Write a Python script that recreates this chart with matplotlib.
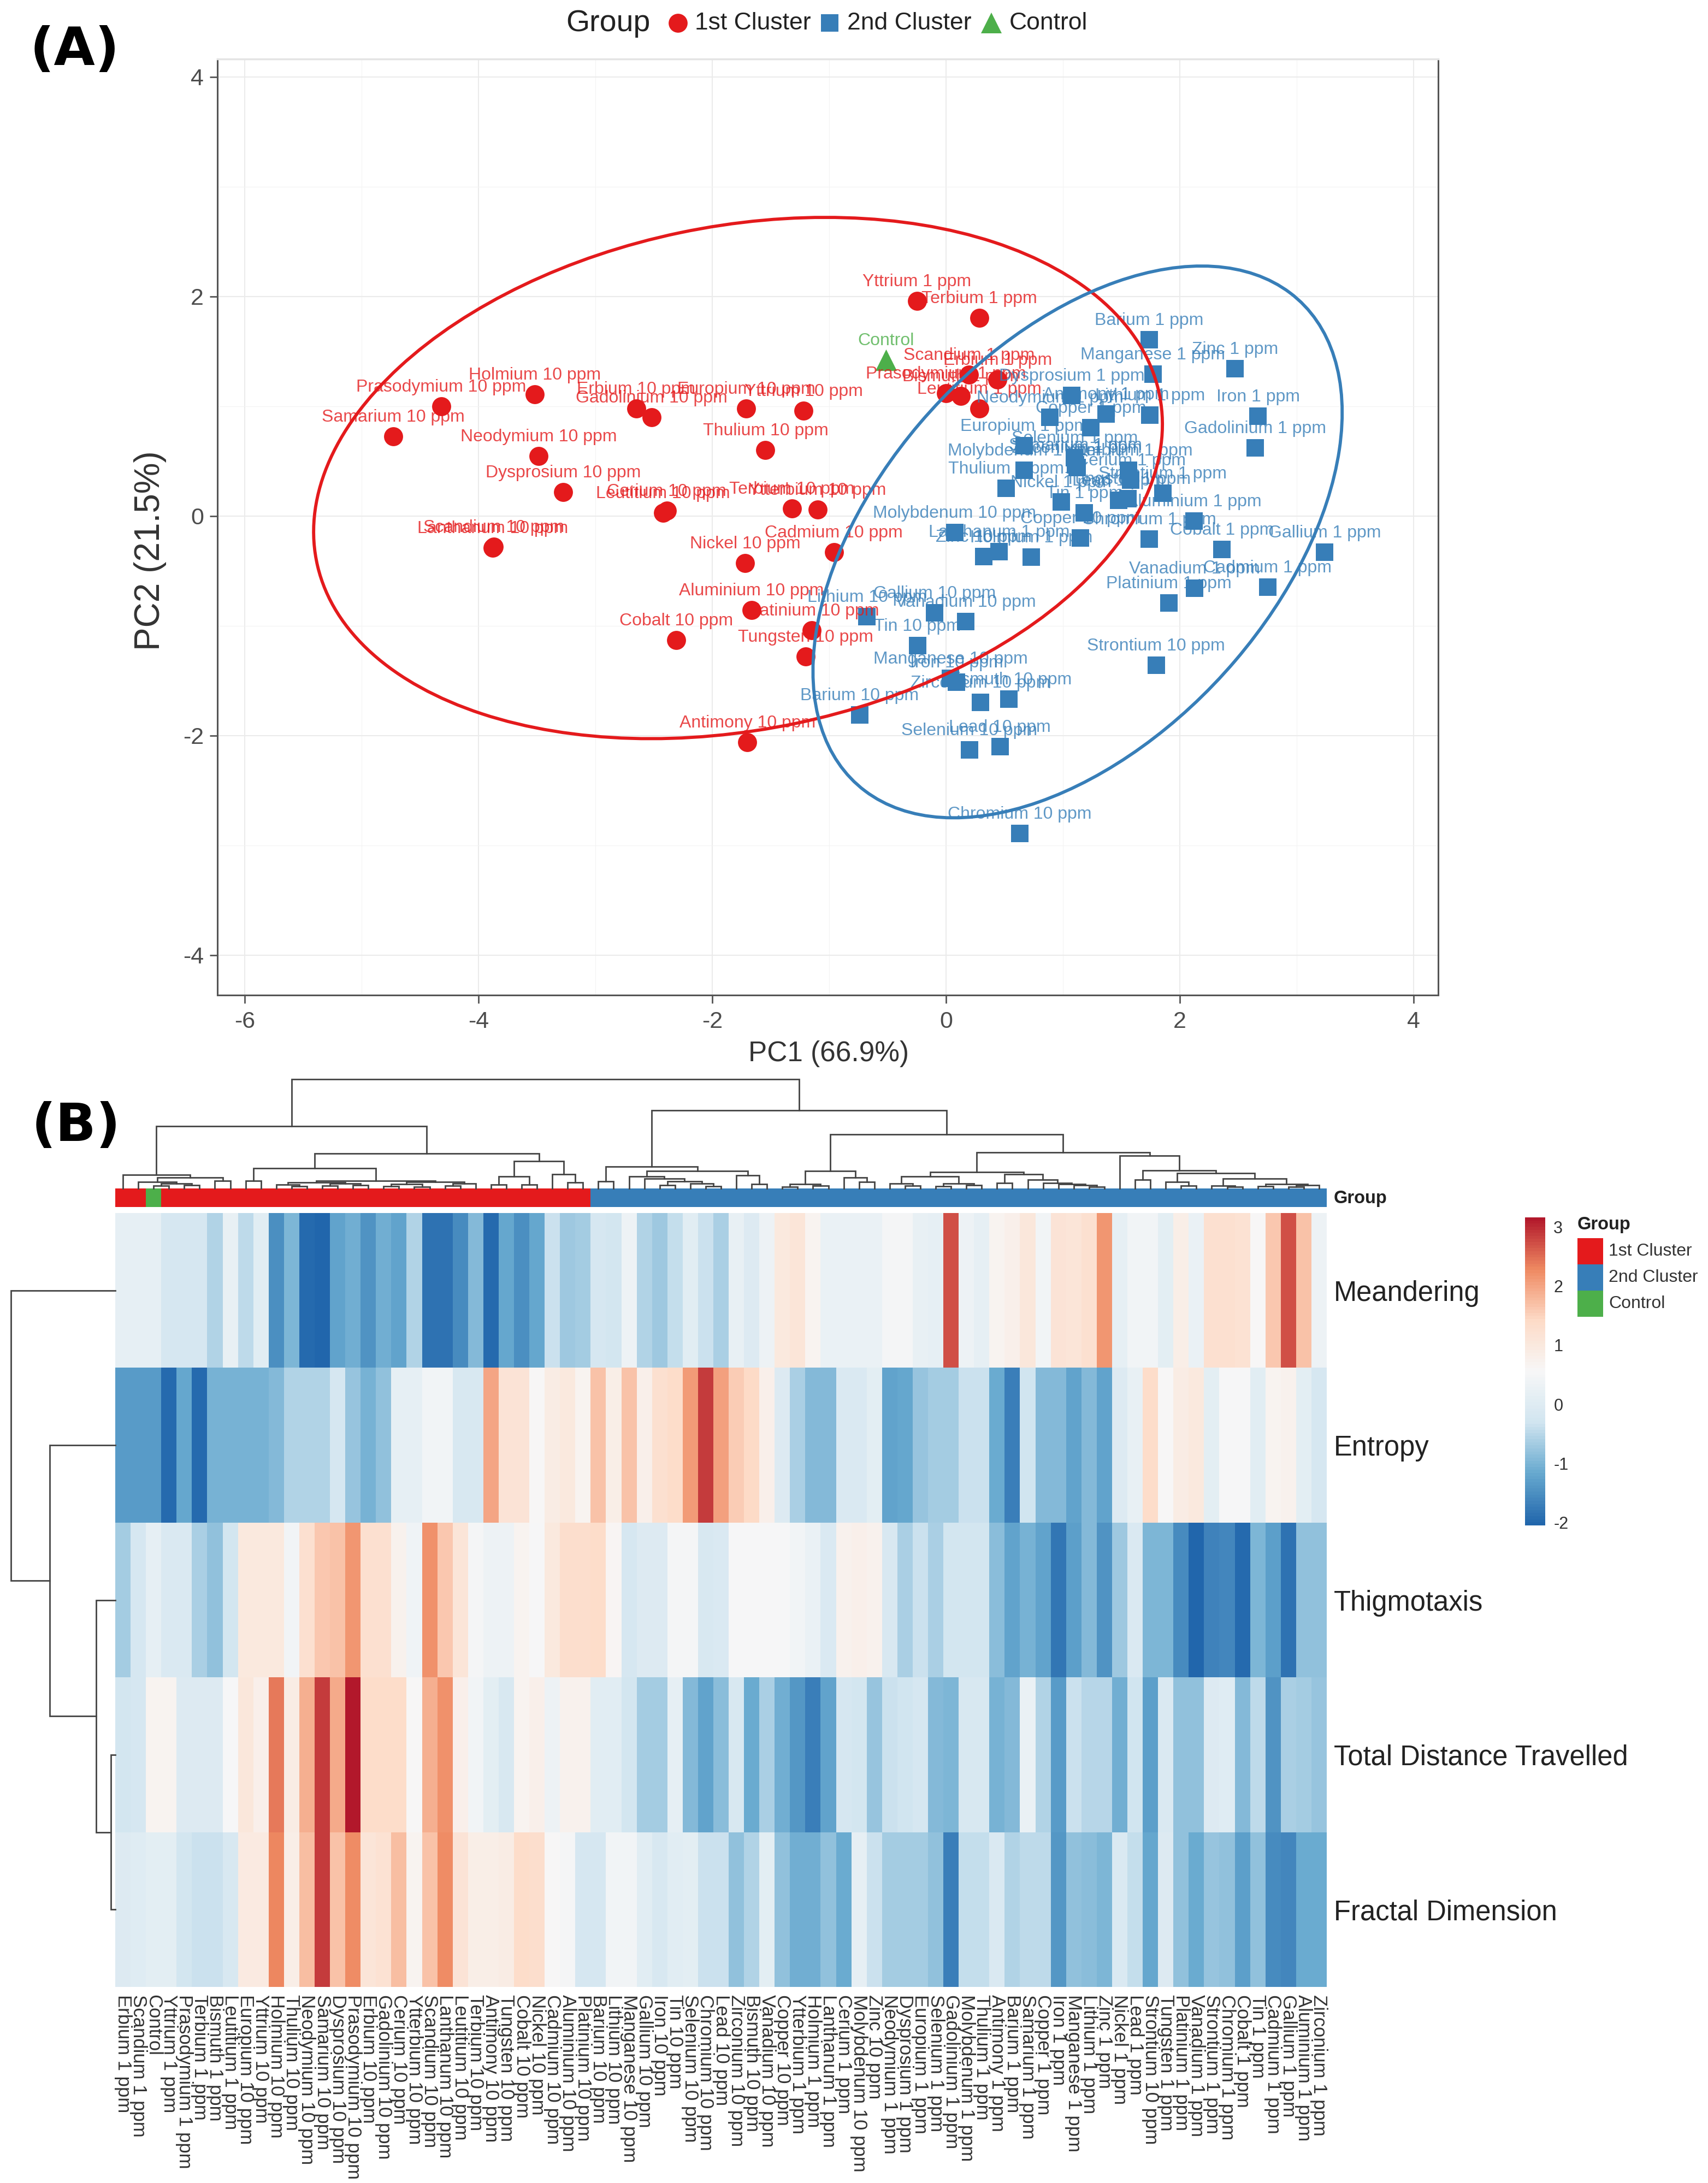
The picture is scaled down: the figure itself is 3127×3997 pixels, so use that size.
import matplotlib
matplotlib.use('Agg')
import matplotlib.pyplot as plt
from matplotlib.cm import ScalarMappable
from matplotlib.colors import LinearSegmentedColormap, ListedColormap, Normalize
from matplotlib.lines import Line2D
from matplotlib.patches import Ellipse, Rectangle
import numpy as np

plt.rcParams['font.family'] = ['Liberation Sans', 'DejaVu Sans']

W, H = 3127, 3997

# PCA scores
names_c1 = ['Erbium 1 ppm', 'Scandium 1 ppm', 'Yttrium 1 ppm', 'Prasodymium 1 ppm', 'Terbium 1 ppm',
            'Bismuth 1 ppm', 'Leutitium 1 ppm', 'Europium 10 ppm', 'Yttrium 10 ppm', 'Holmium 10 ppm',
            'Thulium 10 ppm', 'Neodymium 10 ppm', 'Samarium 10 ppm', 'Dysprosium 10 ppm', 'Prasodymium 10 ppm',
            'Erbium 10 ppm', 'Gadolinium 10 ppm', 'Cerium 10 ppm', 'Ytterbium 10 ppm', 'Scandium 10 ppm',
            'Lanthanum 10 ppm', 'Leutitium 10 ppm', 'Terbium 10 ppm', 'Antimony 10 ppm', 'Tungsten 10 ppm',
            'Cobalt 10 ppm', 'Nickel 10 ppm', 'Cadmium 10 ppm', 'Aluminium 10 ppm', 'Platinium 10 ppm']
pc1_c1 = [0.44, 0.197, -0.25, 0.0, 0.283, 0.126, 0.283, -1.71, -1.22, -3.52,
          -1.545, -3.485, -4.73, -3.275, -4.32, -2.65, -2.52, -2.39, -1.10, -3.87,
          -3.88, -2.42, -1.32, -1.70, -1.20, -2.31, -1.72, -0.96, -1.665, -1.15]
pc2_c1 = [1.24, 1.286, 1.956, 1.117, 1.806, 1.09, 0.976, 0.98, 0.96, 1.107,
          0.60, 0.545, 0.726, 0.217, 1.0, 0.98, 0.90, 0.05, 0.06, -0.28,
          -0.29, 0.03, 0.07, -2.06, -1.28, -1.13, -0.43, -0.33, -0.86, -1.04]

names_c2 = ['Barium 10 ppm', 'Lithium 10 ppm', 'Manganese 10 ppm', 'Gallium 10 ppm', 'Iron 10 ppm', 'Tin 10 ppm',
            'Selenium 10 ppm', 'Chromium 10 ppm', 'Lead 10 ppm', 'Zirconium 10 ppm', 'Bismuth 10 ppm',
            'Vanadium 10 ppm', 'Copper 10 ppm', 'Ytterbium 1 ppm', 'Holmium 1 ppm', 'Lanthanum 1 ppm', 'Cerium 1 ppm',
            'Molybdenum 10 ppm', 'Zinc 10 ppm', 'Neodymium 1 ppm', 'Dysprosium 1 ppm', 'Europium 1 ppm',
            'Selenium 1 ppm', 'Gadolinium 1 ppm', 'Molybdenum 1 ppm', 'Thulium 1 ppm', 'Antimony 1 ppm',
            'Barium 1 ppm', 'Samarium 1 ppm', 'Copper 1 ppm', 'Iron 1 ppm', 'Manganese 1 ppm', 'Lithium 1 ppm',
            'Zinc 1 ppm', 'Nickel 1 ppm', 'Lead 1 ppm', 'Strontium 10 ppm', 'Tungsten 1 ppm', 'Platinium 1 ppm',
            'Vanadium 1 ppm', 'Strontium 1 ppm', 'Chromium 1 ppm', 'Cobalt 1 ppm', 'Tin 1 ppm', 'Cadmium 1 ppm',
            'Gallium 1 ppm', 'Aluminium 1 ppm', 'Zirconium 1 ppm']
pc1_c2 = [-0.74, -0.676, 0.037, -0.10, 0.088, -0.244, 0.20, 0.63, 0.46, 0.295, 0.537,
          0.168, 1.15, 1.56, 0.728, 0.453, 1.58, 0.074, 0.32, 0.887, 1.076, 0.67,
          1.10, 2.646, 0.67, 0.516, 1.37, 1.737, 1.105, 1.24, 2.67, 1.77, 1.745,
          2.47, 0.985, 1.475, 1.797, 1.557, 1.907, 2.127, 1.853, 1.737, 2.36, 1.184,
          2.75, 3.237, 2.12, 1.12]
pc2_c2 = [-1.815, -0.915, -1.48, -0.885, -1.515, -1.18, -2.13, -2.89, -2.10, -1.70, -1.667,
          -0.96, -0.20, 0.416, -0.375, -0.324, 0.328, -0.149, -0.37, 0.90, 1.095, 0.64,
          0.53, 0.62, 0.416, 0.25, 0.93, 1.605, 0.468, 0.805, 0.91, 1.29, 0.92,
          1.34, 0.128, 0.14, -1.36, 0.157, -0.793, -0.66, 0.207, -0.21, -0.305, 0.028,
          -0.649, -0.33, -0.045, 0.44]

control_name = 'Control'
control_pc1 = -0.513
control_pc2 = 1.42

# Ellipses: centre x, centre y, width, height, angle
ellipse_c1 = (-1.78, 0.345, 7.37, 4.578, 12.6)
ellipse_c2 = (1.125, -0.237, 5.814, 3.458, 51.3)

# Heatmap
col_labels = ['Erbium 1 ppm', 'Scandium 1 ppm', 'Control', 'Yttrium 1 ppm', 'Prasodymium 1 ppm', 'Terbium 1 ppm',
              'Bismuth 1 ppm', 'Leutitium 1 ppm', 'Europium 10 ppm', 'Yttrium 10 ppm', 'Holmium 10 ppm',
              'Thulium 10 ppm', 'Neodymium 10 ppm', 'Samarium 10 ppm', 'Dysprosium 10 ppm', 'Prasodymium 10 ppm',
              'Erbium 10 ppm', 'Gadolinium 10 ppm', 'Cerium 10 ppm', 'Ytterbium 10 ppm', 'Scandium 10 ppm',
              'Lanthanum 10 ppm', 'Leutitium 10 ppm', 'Terbium 10 ppm', 'Antimony 10 ppm', 'Tungsten 10 ppm',
              'Cobalt 10 ppm', 'Nickel 10 ppm', 'Cadmium 10 ppm', 'Aluminium 10 ppm', 'Platinium 10 ppm',
              'Barium 10 ppm', 'Lithium 10 ppm', 'Manganese 10 ppm', 'Gallium 10 ppm', 'Iron 10 ppm', 'Tin 10 ppm',
              'Selenium 10 ppm', 'Chromium 10 ppm', 'Lead 10 ppm', 'Zirconium 10 ppm', 'Bismuth 10 ppm',
              'Vanadium 10 ppm', 'Copper 10 ppm', 'Ytterbium 1 ppm', 'Holmium 1 ppm', 'Lanthanum 1 ppm',
              'Cerium 1 ppm', 'Molybdenum 10 ppm', 'Zinc 10 ppm', 'Neodymium 1 ppm', 'Dysprosium 1 ppm',
              'Europium 1 ppm', 'Selenium 1 ppm', 'Gadolinium 1 ppm', 'Molybdenum 1 ppm', 'Thulium 1 ppm',
              'Antimony 1 ppm', 'Barium 1 ppm', 'Samarium 1 ppm', 'Copper 1 ppm', 'Iron 1 ppm', 'Manganese 1 ppm',
              'Lithium 1 ppm', 'Zinc 1 ppm', 'Nickel 1 ppm', 'Lead 1 ppm', 'Strontium 10 ppm', 'Tungsten 1 ppm',
              'Platinium 1 ppm', 'Vanadium 1 ppm', 'Strontium 1 ppm', 'Chromium 1 ppm', 'Cobalt 1 ppm', 'Tin 1 ppm',
              'Cadmium 1 ppm', 'Gallium 1 ppm', 'Aluminium 1 ppm', 'Zirconium 1 ppm']
row_labels = ['Meandering', 'Entropy', 'Thigmotaxis', 'Total Distance Travelled', 'Fractal Dimension']

meandering = [.15, .15, .15, -.2, -.2, -.2, -.55, .2, -.45, .05, -1.5, -1.0, -1.95, -2.0, -1.25, -1.1,
              -1.45, -1.1, -1.25, -.55, -1.85, -1.85, -1.55, -.95, -1.95, -1.2, -1.5, -1.2, -.35, -.7, -.65,
              -.2, -.25, .3, -.55, -.7, -.4, .05, -.35, -.6, .2, -.05, .3, 1.0, 1.1, .7, .25, .25, .25, .25,
              .5, .5, .2, .15, 2.7, .3, .15, .7, .8, 1.05, .4, 1.15, 1.1, 1.25, 2.15, .15, .4, .45, .1, .85,
              .25, 1.25, 1.25, 1.2, .6, 1.6, 2.7, 1.65, .3]
entropy = [-1.35, -1.35, -1.35, -1.95, -1.2, -1.95, -1.05, -1.05, -1.05, -1.05, -.95, -.55, -.55, -.55, -.2,
           -.75, -1.05, -.85, .15, .15, .4, .4, -.15, -.15, 2.0, 1.15, 1.15, .6, .9, 1.0, .7, 1.7, .85, 1.7,
           .8, 1.25, 1.35, 2.1, 2.85, 2.05, 1.55, 1.4, .8, -.05, -.6, -.95, -.95, -.1, -.1, .1, -1.25, -1.2,
           -.75, -.65, -.65, -.35, -.35, -1.15, -1.7, -.3, -.95, -.95, -1.25, -.95, -1.25, -.05, .2, 1.35,
           .6, .9, 1.0, .1, .55, .55, .05, .7, .75, .1, -.2]
thigmotaxis = [-.65, -.2, .15, -.1, -.1, -.6, -.85, -.25, 1.0, 1.0, 1.0, .45, 1.25, 1.6, 1.7, 2.15, 1.25,
               1.25, .75, .35, 2.2, 1.6, 1.1, .5, .3, .3, .7, .55, 1.0, 1.3, 1.3, 1.35, .65, -.2, -.05, -.05,
               .5, .5, -.15, -.1, .55, .55, .55, .55, .4, .25, -.1, .75, .8, .75, -.15, -.6, -.35, -.6, -.25,
               -.25, -.25, -.9, -1.25, -1.05, -1.25, -1.8, -1.3, -.95, -1.45, -.7, -.1, -1.0, -1.0, -1.55,
               -2.0, -1.65, -1.6, -1.95, -1.0, -1.3, -1.85, -.85, -.85]
total_distance = [-.25, -.2, .7, .7, -.05, -.05, -.05, .55, 1.05, .8, 2.4, .9, 1.9, 2.85, 1.95, 3.15, 1.35,
                  1.35, 1.35, .6, 1.9, 2.2, .8, .45, .1, -.15, .7, .8, .3, .75, .75, .05, .05, -.25, -.65,
                  -.65, .15, -.95, -1.25, -.9, -.15, -1.15, -.6, -1.1, -1.4, -1.7, -1.25, -.2, -.25, -.75,
                  -.35, -.3, -.2, -.95, -1.0, -.15, -.15, -1.05, -.95, .25, -.55, -1.35, -.35, -.5, -.5,
                  -1.1, -.3, -1.3, -.1, -.8, -.85, -.05, .0, -.95, -.45, -1.45, -.6, -.65, -.75]
fractal_dimension = [-.05, .0, .1, .1, -.25, -.35, -.35, -.15, .95, .95, 2.3, .85, 1.75, 2.85, 1.65, 2.25,
                     1.1, 1.2, 1.75, .7, 1.7, 2.25, 1.15, .85, .85, .9, 1.35, 1.3, .6, .5, -.2, -.2, .45,
                     .45, .05, -.15, .05, .1, -.35, -.35, -.85, -.55, .1, -.85, -1.1, -1.1, -.85, -1.15, .15,
                     -.35, -.65, -.65, -.65, -.85, -1.7, -.4, -.4, -.1, -.55, -.45, -.45, -1.4, -.85, -.9,
                     -1.0, -.1, -.4, -1.2, -.05, -.85, -1.15, -.75, -.8, -1.3, -.85, -1.55, -1.6, -1.15, -1.15]

group_names = ['1st Cluster', '2nd Cluster', 'Control']
group_colors = ['#E41A1C', '#377EB8', '#4DAF4A']
col_group = [0, 0, 2] + [0] * 28 + [1] * 48

# Trees as (height, left, right), ints are leaves
col_tree = (200,
            (114,
             (25, 0, (20, (12, 1, (9, (5, 2, 3), (6, 4, 5))), (14, 6, 7))),
             (64,
              (37, (14, 8, 9),
               (14,
                (11, (7, 10, (4, 11, 12)), (9, (5, 13, 14), (6, 15, 16))),
                (12, (8, (4, 17, 18), (3, 19, 20)), (9, (5, 21, 22), 23)))),
              (50, (22, (7, 24, 25), (7, 26, 27)), (26, 28, (11, 29, 30))))),
            (143,
             (40, (13, 31, 32),
              (32,
               (22, 33, (18, 34, (13, (6, 35, 36), (9, 37, (4, 38, 39))))),
               (24, 40, (8, 41, 42)))),
             (99,
              (32,
               (8, (3, 43, 44), (5, 45, 46)),
               (20, 47, (12, 48, 49))),
              (66,
               (30,
                (22, (9, 50, (5, 51, 52)), (9, (4, 53, 54), (6, 55, 56))),
                (26, (10, 57, 58), (16, 59, (10, 60, (8, 61, (6, 62, (3, 63, 64))))))),
               (60, 65,
                (33, (16, 66, 67),
                 (28, (12, 68, (5, 69, 70)),
                  (18, (5, 71, (3, 72, 73)),
                   (8, (4, 74, 75), (6, (3, 76, 77), 78))))))))))
row_tree = (191, 0, (120, 1, (35, 2, (8, 3, 4))))


def px_axes(x0, y0, x1, y1):
    return fig.add_axes([x0 / W, 1 - y1 / H, (x1 - x0) / W, (y1 - y0) / H])


def tree_segments(node, segs):
    # returns position and height of a node, collects the three lines of each merge
    if isinstance(node, int):
        return node + 0.5, 0
    h, a, b = node
    xa, ha = tree_segments(a, segs)
    xb, hb = tree_segments(b, segs)
    segs.append(([xa, xa, xb, xb], [ha, h, h, hb]))
    return (xa + xb) / 2, h


fig = plt.figure(figsize=(W / 100, H / 100), dpi=100, facecolor='white')

# (A) PCA
ax = px_axes(398, 108, 2633, 1822)
ax.set_xlim(-6.234, 4.21)
ax.set_ylim(-4.365, 4.162)
ax.set_xticks([-6, -4, -2, 0, 2, 4])
ax.set_yticks([-4, -2, 0, 2, 4])
ax.set_xticks([-5, -3, -1, 1, 3], minor=True)
ax.set_yticks([-3, -1, 1, 3], minor=True)
ax.grid(True, which='major', color='#EBEBEB', lw=1.5)
ax.grid(True, which='minor', color='#F3F3F3', lw=0.8)
ax.set_axisbelow(True)
ax.tick_params(which='minor', length=0)
ax.tick_params(axis='x', which='major', length=11, width=2, color='#555555', labelcolor='#4D4D4D',
               labelsize=31, pad=10)
ax.tick_params(axis='y', which='major', length=10, width=2, color='#555555', labelcolor='#4D4D4D',
               labelsize=31, pad=8)
ax.xaxis.set_major_formatter(lambda v, p: f'{v:.0f}')
ax.yaxis.set_major_formatter(lambda v, p: f'{v:.0f}')
for s in ['left', 'bottom', 'right']:
    ax.spines[s].set_color('#555555')
    ax.spines[s].set_linewidth(2.2)
ax.spines['top'].set_color('#E4E4E4')
ax.spines['top'].set_linewidth(2.5)

ax.scatter(pc1_c1, pc2_c1, s=630, marker='o', color=group_colors[0], linewidths=0, zorder=3)
ax.scatter(pc1_c2, pc2_c2, s=530, marker='s', color=group_colors[1], linewidths=0, zorder=3)
ax.scatter([control_pc1], [control_pc2], s=800, marker='^', color=group_colors[2], linewidths=0, zorder=3)

for names, xs, ys, c in [(names_c1, pc1_c1, pc2_c1, group_colors[0]),
                         (names_c2, pc1_c2, pc2_c2, group_colors[1]),
                         ([control_name], [control_pc1], [control_pc2], group_colors[2])]:
    for n, x, y in zip(names, xs, ys):
        ax.annotate(n, (x, y), xytext=(0, 35), textcoords='offset pixels', ha='center', va='center',
                    fontsize=23, color=c, alpha=0.8, zorder=4)

for e, c in [(ellipse_c1, group_colors[0]), (ellipse_c2, group_colors[1])]:
    ax.add_patch(Ellipse((e[0], e[1]), e[2], e[3], angle=e[4], fill=False, edgecolor=c, lw=4.2, zorder=5))

fig.text(1517 / W, 1 - 1930 / H, 'PC1 (66.9%)', fontsize=37, color='#333333', ha='center', va='center')
fig.text(275 / W, 1 - 1008 / H, 'PC2 (21.5%)', fontsize=46, color='#333333', ha='center', va='center',
         rotation=90)

# legend on top
fig.text(1036 / W, 1 - 43 / H, 'Group', fontsize=40, color='#222222', ha='left', va='center')
legend_marks = [('o', 25, 1241), ('s', 23, 1519), ('^', 28, 1815)]
legend_text_x = [1272, 1551, 1848]
for (m, ms, x), c, name, tx in zip(legend_marks, group_colors, group_names, legend_text_x):
    fig.add_artist(Line2D([x / W], [1 - 42 / H], marker=m, ms=ms, color=c, mew=0, ls='none',
                          transform=fig.transFigure))
    fig.text(tx / W, 1 - 43 / H, name, fontsize=32, color='#222222', ha='left', va='center')

fig.text(55 / W, 1 - 92 / H, '(A)', fontsize=70, fontweight='bold', family='DejaVu Sans', ha='left', va='center',
         color='black')
fig.text(58 / W, 1 - 2063 / H, '(B)', fontsize=70, fontweight='bold', family='DejaVu Sans', ha='left', va='center',
         color='black')

# (B) heatmap
values = np.array([meandering, entropy, thigmotaxis, total_distance, fractal_dimension])
rdbu = LinearSegmentedColormap.from_list('rdbu7', ['#2166AC', '#67A9CF', '#D1E5F0', '#F7F7F7', '#FDDBC7',
                                                   '#EF8A62', '#B2182B'], N=100)
norm = Normalize(-2.05, 3.16)

ax_h = px_axes(211, 2221, 2429, 3638)
ax_h.pcolormesh(np.arange(len(col_labels) + 1), np.arange(len(row_labels) + 1), values, cmap=rdbu, norm=norm)
ax_h.set_xlim(0, len(col_labels))
ax_h.set_ylim(len(row_labels), 0)
for s in ax_h.spines.values():
    s.set_visible(False)
ax_h.yaxis.tick_right()
ax_h.set_yticks(np.arange(len(row_labels)) + 0.5, row_labels, fontsize=36.5, color='#222222')
ax_h.set_xticks(np.arange(len(col_labels)) + 0.5, col_labels, rotation=270, ha='center', va='top',
                fontsize=25, color='#333333')
ax_h.tick_params(axis='both', length=0)
ax_h.tick_params(axis='y', pad=9)
ax_h.tick_params(axis='x', pad=10)

# annotation bar
ax_g = px_axes(211, 2176, 2429, 2210)
ax_g.pcolormesh(np.arange(len(col_labels) + 1), [0, 1], [col_group], cmap=ListedColormap(group_colors), vmin=0, vmax=2)
ax_g.set_xlim(0, len(col_labels))
ax_g.set_xticks([])
ax_g.set_yticks([])
for s in ax_g.spines.values():
    s.set_visible(False)
fig.text(2442 / W, 1 - 2194 / H, 'Group', fontsize=23.5, fontweight='bold', color='#222222', ha='left', va='center')

# dendrograms
ax_top = px_axes(211, 1974, 2429, 2176)
ax_top.set_xlim(0, len(col_labels))
ax_top.set_ylim(0, 202)
ax_top.axis('off')
segs = []
tree_segments(col_tree, segs)
for xs, ys in segs:
    ax_top.plot(xs, ys, color='#444444', lw=2.0, solid_joinstyle='miter', clip_on=False)

ax_left = px_axes(18, 2221, 211, 3638)
ax_left.set_xlim(193, 0)
ax_left.set_ylim(len(row_labels), 0)
ax_left.axis('off')
segs = []
tree_segments(row_tree, segs)
for ys, xs in segs:
    ax_left.plot(xs, ys, color='#444444', lw=2.0, solid_joinstyle='miter', clip_on=False)

# colour bar and group key
cax = px_axes(2792, 2229, 2829, 2793)
cb = fig.colorbar(ScalarMappable(norm=norm, cmap=rdbu), cax=cax, ticks=[-2, -1, 0, 1, 2, 3])
cb.outline.set_visible(False)
cb.ax.tick_params(length=0, pad=11, labelsize=22, labelcolor='#333333')
cb.ax.yaxis.set_major_formatter(lambda v, p: f'{v:.0f}')

fig.text(2888 / W, 1 - 2243 / H, 'Group', fontsize=23.5, fontweight='bold', color='#222222', ha='left', va='center')
for i, (name, c) in enumerate(zip(group_names, group_colors)):
    fig.add_artist(Rectangle((2888 / W, 1 - (2267 + 48 * (i + 1)) / H), 47 / W, 48 / H, transform=fig.transFigure,
                             facecolor=c, edgecolor='none'))
    fig.text(2945 / W, 1 - (2291 + 48 * i) / H, name, fontsize=23, color='#333333', ha='left', va='center')

fig.savefig('out.png', dpi=100, facecolor='white')
